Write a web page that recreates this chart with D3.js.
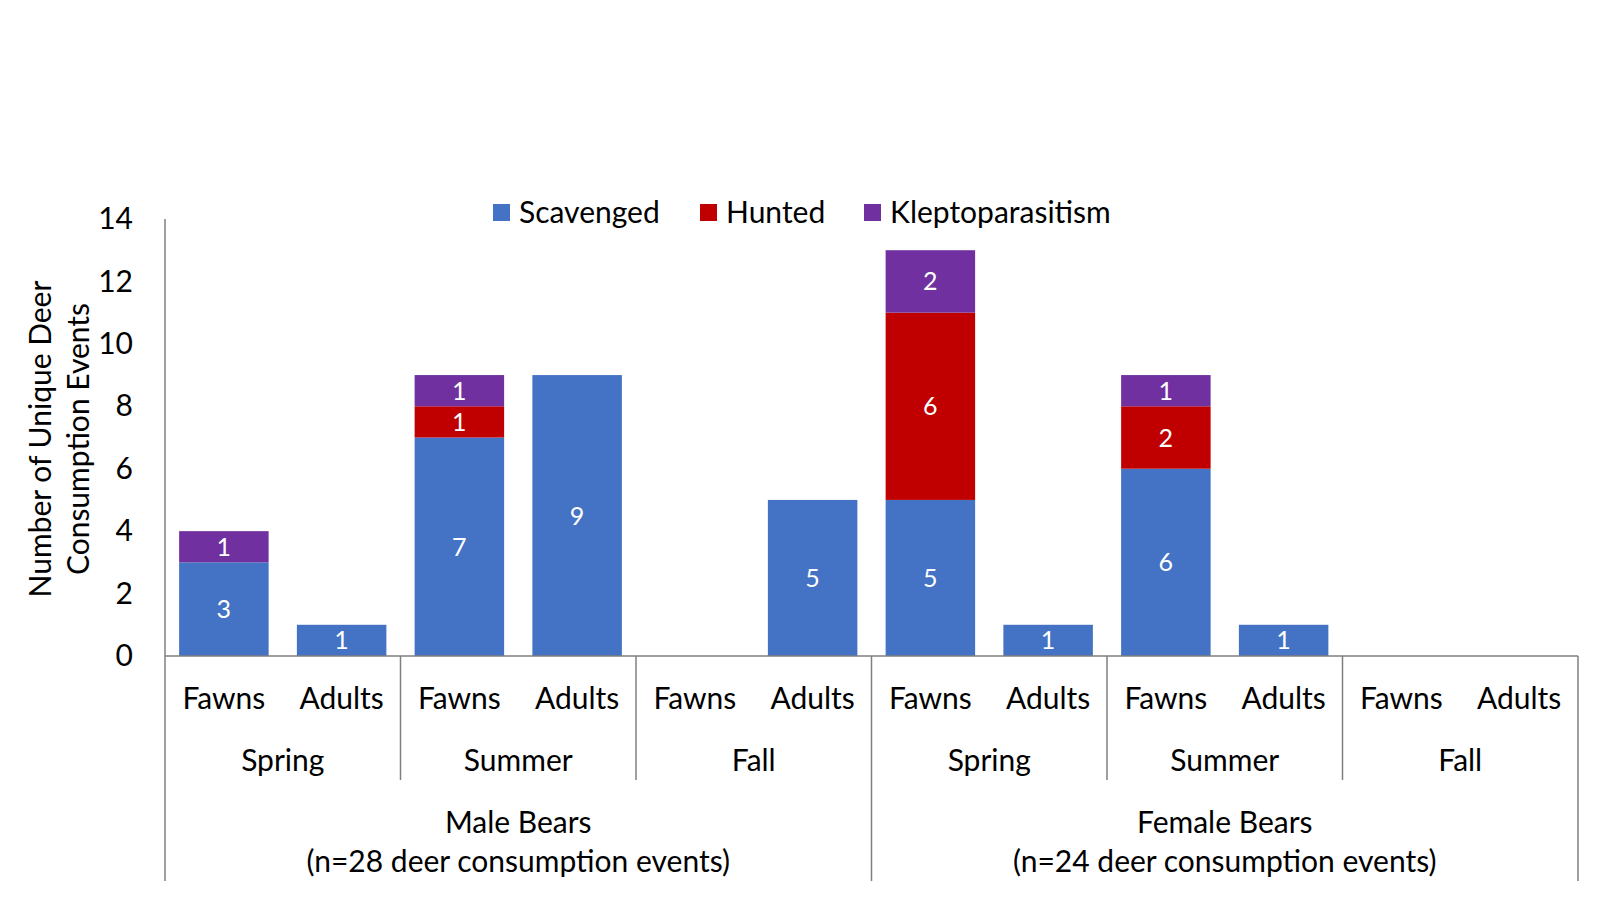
<!DOCTYPE html>
<html>
<head>
<meta charset="utf-8">
<script src="https://cdn.jsdelivr.net/npm/d3@7"></script>
<style>
  body { margin: 0; background: #fff; }
  text { font-family: Lato, "Open Sans", sans-serif; }
</style>
</head>
<body>
<script>
// chart data
var sexes = ["Male Bears", "Female Bears"];
var sexNotes = ["(n=28 deer consumption events)", "(n=24 deer consumption events)"];
var seasons = ["Spring", "Summer", "Fall"];
var ages = ["Fawns", "Adults"];
var seriesNames = ["Scavenged", "Hunted", "Kleptoparasitism"];
var seriesColors = ["#4472C4", "#C00000", "#7030A0"];
// one value per bar, order: sex > season > age
var scavenged = [3, 1, 7, 9, 0, 5, 5, 1, 6, 1, 0, 0];
var hunted    = [0, 0, 1, 0, 0, 0, 6, 0, 2, 0, 0, 0];
var klepto    = [1, 0, 1, 0, 0, 0, 2, 0, 1, 0, 0, 0];
var yTicks = [0, 2, 4, 6, 8, 10, 12, 14];

var width = 1600, height = 900;
var plotL = 165, plotR = 1578, plotT = 219, plotB = 656, axisEnd = 881;
var fs = "30px";

var svg = d3.select("body").append("svg")
    .attr("width", width)
    .attr("height", height);

// build bar rows
var bars = [];
sexes.forEach(function(s, si){
  seasons.forEach(function(se, sei){
    ages.forEach(function(a, ai){
      var i = bars.length;
      bars.push({key: i, sex: si, season: sei, age: a,
        Scavenged: scavenged[i], Hunted: hunted[i], Kleptoparasitism: klepto[i]});
    });
  });
});

var x = d3.scaleBand()
    .domain(bars.map(function(d){ return d.key; }))
    .range([plotL, plotR])
    .paddingInner(0.24)
    .paddingOuter(0.12);

var y = d3.scaleLinear().domain([0, 14]).range([plotB, plotT]);

var color = d3.scaleOrdinal().domain(seriesNames).range(seriesColors);

var stacked = d3.stack().keys(seriesNames)(bars);

// bars
var layers = svg.append("g").selectAll("g")
  .data(stacked)
  .enter().append("g")
  .attr("fill", function(d){ return color(d.key); });

layers.selectAll("rect")
  .data(function(d){ return d; })
  .enter().append("rect")
  .attr("x", function(d){ return x(d.data.key); })
  .attr("width", x.bandwidth())
  .attr("y", function(d){ return y(d[1]); })
  .attr("height", function(d){ return y(d[0]) - y(d[1]); });

// data labels
layers.selectAll("text")
  .data(function(d){ return d.filter(function(p){ return p[1] - p[0] > 0; }); })
  .enter().append("text")
  .attr("x", function(d){ return x(d.data.key) + x.bandwidth()/2; })
  .attr("y", function(d){ return (y(d[0]) + y(d[1]))/2; })
  .attr("dy", "0.36em")
  .attr("text-anchor", "middle")
  .attr("fill", "#fff")
  .style("font-size", "25px")
  .text(function(d){ return d[1] - d[0]; });

// y axis
var yAxis = d3.axisLeft(y).tickValues(yTicks).tickSize(0).tickPadding(32);
var ya = svg.append("g").attr("transform", "translate(" + plotL + ",0)").call(yAxis);
ya.select(".domain").remove();
ya.selectAll("text").style("font-size", fs).attr("fill", "#000")
  .style("font-family", "Lato, 'Open Sans', sans-serif");

var lineColor = "#7f7f7f";
// left axis line and baseline
svg.append("line").attr("x1", plotL).attr("x2", plotL).attr("y1", plotT).attr("y2", axisEnd)
  .attr("stroke", lineColor).attr("stroke-width", 1.5);
svg.append("line").attr("x1", plotL).attr("x2", plotR).attr("y1", plotB).attr("y2", plotB)
  .attr("stroke", lineColor).attr("stroke-width", 1.5);

var slotW = (plotR - plotL) / 12;

// age labels
svg.append("g").selectAll("text")
  .data(bars).enter().append("text")
  .attr("x", function(d){ return x(d.key) + x.bandwidth()/2; })
  .attr("y", 709)
  .attr("text-anchor", "middle")
  .style("font-size", fs)
  .text(function(d){ return d.age; });

// season labels and separators
var seasonGroups = [];
sexes.forEach(function(s, si){
  seasons.forEach(function(se, sei){ seasonGroups.push({sex: si, name: se, idx: si*3 + sei}); });
});
svg.append("g").selectAll("text")
  .data(seasonGroups).enter().append("text")
  .attr("x", function(d){ return plotL + slotW * (d.idx*2 + 1); })
  .attr("y", 771)
  .attr("text-anchor", "middle")
  .style("font-size", fs)
  .text(function(d){ return d.name; });

svg.append("g").selectAll("line")
  .data(d3.range(1, 6)).enter().append("line")
  .attr("x1", function(d){ return plotL + slotW * d * 2; })
  .attr("x2", function(d){ return plotL + slotW * d * 2; })
  .attr("y1", plotB)
  .attr("y2", function(d){ return d === 3 ? axisEnd : 780; })
  .attr("stroke", lineColor).attr("stroke-width", 1.5);
svg.append("line").attr("x1", plotR).attr("x2", plotR).attr("y1", plotB).attr("y2", axisEnd)
  .attr("stroke", lineColor).attr("stroke-width", 1.5);

// sex labels
sexes.forEach(function(s, si){
  var cx = plotL + slotW * (si*6 + 3);
  svg.append("text").attr("x", cx).attr("y", 833).attr("text-anchor", "middle")
    .style("font-size", fs).text(s);
  svg.append("text").attr("x", cx).attr("y", 872).attr("text-anchor", "middle")
    .style("font-size", fs).text(sexNotes[si]);
});

// y axis title
var yt = svg.append("text")
  .attr("transform", "translate(51,439) rotate(-90)")
  .attr("text-anchor", "middle")
  .style("font-size", fs);
yt.append("tspan").attr("x", 0).attr("dy", 0).text("Number of Unique Deer");
yt.append("tspan").attr("x", 0).attr("dy", 38).text("Consumption Events");

// legend
var legX = [493, 700, 864];
var leg = svg.append("g").selectAll("g")
  .data(seriesNames).enter().append("g")
  .attr("transform", function(d, i){ return "translate(" + legX[i] + ",204)"; });
leg.append("rect").attr("width", 17).attr("height", 17)
  .attr("fill", function(d){ return color(d); });
leg.append("text").attr("x", 26).attr("y", 8.5).attr("dy", "0.35em")
  .style("font-size", fs).text(function(d){ return d; });
</script>
</body>
</html>
